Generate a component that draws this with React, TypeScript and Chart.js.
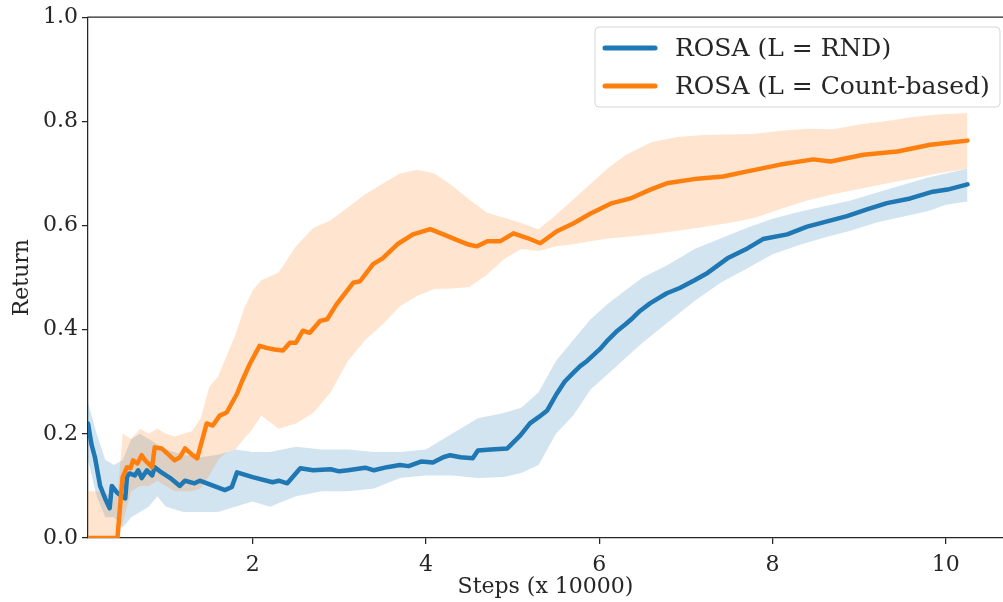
import React, { useEffect, useRef } from "react";
import { Chart, registerables } from "chart.js";
Chart.register(...registerables);

const seriesNames = ["ROSA (L = RND)", "ROSA (L = Count-based)"];
const xTickValues = [2, 4, 6, 8, 10];
const yTickValues = [0, 0.2, 0.4, 0.6, 0.8, 1.0];
const xAxisTitle = "Steps (x 10000)";
const yAxisTitle = "Return";

// RND mean line
const rndX = [0.10, 0.14, 0.18, 0.24, 0.30, 0.35, 0.375, 0.44, 0.53, 0.55, 0.58, 0.64, 0.68, 0.72, 0.78, 0.84, 0.87, 0.93, 1.05, 1.16, 1.22, 1.33, 1.39, 1.55, 1.68, 1.76, 1.82, 2.0, 2.23, 2.3, 2.4, 2.55, 2.7, 2.9, 3.0, 3.1, 3.3, 3.4, 3.55, 3.7, 3.8, 3.95, 4.08, 4.2, 4.28, 4.4, 4.54, 4.6, 4.75, 4.94, 5.09, 5.2, 5.3, 5.4, 5.51, 5.6, 5.7, 5.78, 5.86, 6.01, 6.1, 6.21, 6.3, 6.39, 6.47, 6.59, 6.78, 6.93, 7.1, 7.25, 7.48, 7.71, 7.89, 8.17, 8.4, 8.63, 8.86, 9.09, 9.32, 9.59, 9.85, 10.02, 10.25];
const rndMean = [0.22, 0.18, 0.155, 0.10, 0.075, 0.057, 0.10, 0.086, 0.076, 0.117, 0.124, 0.12, 0.13, 0.115, 0.13, 0.12, 0.136, 0.128, 0.115, 0.10, 0.11, 0.105, 0.11, 0.10, 0.092, 0.098, 0.126, 0.117, 0.107, 0.11, 0.105, 0.134, 0.13, 0.132, 0.128, 0.13, 0.135, 0.13, 0.136, 0.14, 0.138, 0.147, 0.145, 0.155, 0.159, 0.155, 0.153, 0.168, 0.17, 0.172, 0.197, 0.22, 0.232, 0.245, 0.277, 0.30, 0.317, 0.33, 0.34, 0.363, 0.38, 0.398, 0.41, 0.423, 0.436, 0.451, 0.47, 0.48, 0.495, 0.509, 0.537, 0.556, 0.574, 0.583, 0.598, 0.608, 0.618, 0.631, 0.643, 0.652, 0.665, 0.669, 0.679];

// RND band
const rndBandX = [0.1, 0.2, 0.3, 0.4, 0.5, 0.6, 0.7, 0.8, 0.9, 1.0, 1.2, 1.4, 1.6, 1.8, 2.0, 2.2, 2.5, 2.8, 3.1, 3.4, 3.7, 4.0, 4.3, 4.6, 4.9, 5.1, 5.3, 5.5, 5.7, 5.9, 6.1, 6.3, 6.5, 6.8, 7.1, 7.4, 7.7, 8.0, 8.3, 8.6, 8.9, 9.2, 9.5, 9.8, 10.0, 10.25];
const rndLow = [0.15, 0.08, 0.04, 0.04, 0.02, 0.04, 0.05, 0.06, 0.08, 0.06, 0.05, 0.05, 0.05, 0.06, 0.07, 0.06, 0.08, 0.09, 0.09, 0.095, 0.115, 0.12, 0.12, 0.115, 0.117, 0.125, 0.14, 0.20, 0.235, 0.285, 0.315, 0.345, 0.375, 0.415, 0.455, 0.49, 0.517, 0.545, 0.562, 0.577, 0.59, 0.606, 0.617, 0.628, 0.64, 0.646];
const rndHigh = [0.26, 0.20, 0.15, 0.14, 0.15, 0.19, 0.20, 0.19, 0.18, 0.17, 0.16, 0.155, 0.16, 0.17, 0.165, 0.165, 0.175, 0.17, 0.17, 0.165, 0.165, 0.17, 0.20, 0.23, 0.24, 0.25, 0.28, 0.34, 0.38, 0.42, 0.45, 0.475, 0.50, 0.525, 0.555, 0.575, 0.595, 0.613, 0.626, 0.637, 0.648, 0.663, 0.678, 0.692, 0.70, 0.709];

// Count-based mean line
const cntX = [0.10, 0.44, 0.47, 0.50, 0.55, 0.59, 0.62, 0.67, 0.72, 0.76, 0.84, 0.87, 0.95, 1.03, 1.10, 1.16, 1.22, 1.30, 1.36, 1.47, 1.54, 1.62, 1.70, 1.82, 1.88, 1.97, 2.08, 2.16, 2.25, 2.35, 2.43, 2.50, 2.58, 2.66, 2.78, 2.86, 2.97, 3.16, 3.24, 3.39, 3.50, 3.67, 3.85, 4.05, 4.20, 4.39, 4.50, 4.59, 4.71, 4.86, 5.01, 5.17, 5.32, 5.51, 5.70, 5.90, 6.13, 6.36, 6.59, 6.78, 7.13, 7.43, 7.71, 8.09, 8.47, 8.67, 9.05, 9.44, 9.82, 10.25];
const cntMean = [0.0, 0.0, 0.06, 0.117, 0.136, 0.134, 0.149, 0.143, 0.159, 0.149, 0.136, 0.174, 0.172, 0.16, 0.149, 0.155, 0.172, 0.16, 0.153, 0.22, 0.216, 0.235, 0.241, 0.277, 0.302, 0.335, 0.369, 0.365, 0.362, 0.36, 0.375, 0.375, 0.398, 0.394, 0.417, 0.42, 0.449, 0.49, 0.493, 0.526, 0.537, 0.564, 0.583, 0.593, 0.583, 0.57, 0.563, 0.56, 0.57, 0.57, 0.585, 0.576, 0.566, 0.589, 0.604, 0.623, 0.642, 0.652, 0.669, 0.681, 0.69, 0.694, 0.704, 0.717, 0.727, 0.723, 0.736, 0.742, 0.755, 0.763];

// Count-based band
const cntBandX = [0.1, 0.2, 0.3, 0.44, 0.5, 0.6, 0.7, 0.8, 0.9, 1.0, 1.1, 1.2, 1.3, 1.4, 1.5, 1.6, 1.7, 1.8, 1.9, 2.0, 2.1, 2.3, 2.5, 2.7, 2.9, 3.1, 3.3, 3.5, 3.7, 3.9, 4.1, 4.3, 4.5, 4.7, 4.9, 5.1, 5.3, 5.5, 5.7, 5.9, 6.1, 6.3, 6.6, 6.9, 7.2, 7.5, 7.8, 8.1, 8.4, 8.7, 9.0, 9.3, 9.6, 9.9, 10.25];
const cntLow = [0.0, 0.0, 0.0, 0.0, 0.03, 0.09, 0.10, 0.10, 0.11, 0.10, 0.09, 0.09, 0.09, 0.095, 0.12, 0.15, 0.165, 0.17, 0.19, 0.21, 0.235, 0.21, 0.22, 0.24, 0.28, 0.34, 0.38, 0.41, 0.445, 0.465, 0.478, 0.479, 0.482, 0.505, 0.535, 0.555, 0.551, 0.56, 0.564, 0.57, 0.575, 0.578, 0.583, 0.59, 0.597, 0.605, 0.615, 0.632, 0.648, 0.66, 0.67, 0.68, 0.69, 0.70, 0.709];
const cntHigh = [0.09, 0.09, 0.085, 0.08, 0.20, 0.19, 0.21, 0.20, 0.21, 0.20, 0.195, 0.20, 0.205, 0.23, 0.29, 0.31, 0.35, 0.39, 0.44, 0.475, 0.495, 0.51, 0.56, 0.595, 0.61, 0.635, 0.66, 0.68, 0.70, 0.707, 0.70, 0.677, 0.65, 0.625, 0.615, 0.605, 0.593, 0.62, 0.65, 0.68, 0.71, 0.735, 0.76, 0.77, 0.774, 0.775, 0.776, 0.782, 0.786, 0.785, 0.794, 0.80, 0.808, 0.813, 0.816];

const BLUE = "#1f77b4";
const ORANGE = "#ff7f0e";
const BLUE_FILL = "rgba(31,119,180,0.2)";
const ORANGE_FILL = "rgba(255,127,14,0.2)";
const INK = "#262626";
const FONT = "'DejaVu Serif', serif";

const pts = (xs: number[], ys: number[]) => xs.map((x, i) => ({ x, y: ys[i] }));

const spinePlugin = {
  id: "spines",
  afterDraw(chart: any) {
    const { ctx, chartArea } = chart;
    ctx.save();
    ctx.strokeStyle = INK;
    ctx.lineWidth = 1.25;
    ctx.beginPath();
    ctx.moveTo(chartArea.left - 0.6, chartArea.top);
    ctx.lineTo(chartArea.right + 2, chartArea.top);
    ctx.stroke();
    ctx.restore();
  },
};

const legendPlugin = {
  id: "customLegend",
  afterDraw(chart: any) {
    const { ctx } = chart;
    const x0 = 595, y0 = 27, w = 405, h = 80, r = 4;
    ctx.save();
    ctx.fillStyle = "rgba(255,255,255,0.8)";
    ctx.strokeStyle = "#d6d6d6";
    ctx.lineWidth = 1;
    ctx.beginPath();
    ctx.moveTo(x0 + r, y0);
    ctx.lineTo(x0 + w - r, y0);
    ctx.arcTo(x0 + w, y0, x0 + w, y0 + r, r);
    ctx.lineTo(x0 + w, y0 + h - r);
    ctx.arcTo(x0 + w, y0 + h, x0 + w - r, y0 + h, r);
    ctx.lineTo(x0 + r, y0 + h);
    ctx.arcTo(x0, y0 + h, x0, y0 + h - r, r);
    ctx.lineTo(x0, y0 + r);
    ctx.arcTo(x0, y0, x0 + r, y0, r);
    ctx.closePath();
    ctx.fill();
    ctx.stroke();
    const colors = [BLUE, ORANGE];
    const ys = [48, 86];
    seriesNames.forEach((name, i) => {
      ctx.strokeStyle = colors[i];
      ctx.lineWidth = 5;
      ctx.lineCap = "round";
      ctx.beginPath();
      ctx.moveTo(605, ys[i]);
      ctx.lineTo(655, ys[i]);
      ctx.stroke();
      ctx.fillStyle = INK;
      ctx.font = `25px ${FONT}`;
      ctx.textBaseline = "middle";
      ctx.textAlign = "left";
      ctx.fillText(name, 675, ys[i] + 1);
    });
    ctx.restore();
  },
};

export default function App() {
  const ref = useRef<HTMLCanvasElement>(null);
  useEffect(() => {
    const canvas = ref.current;
    if (!canvas) return;
    const bandBase = { borderWidth: 0, borderColor: "transparent", pointRadius: 0, tension: 0 };
    const lineBase = { borderWidth: 4.5, pointRadius: 0, tension: 0, fill: false, borderCapStyle: "round", borderJoinStyle: "round" };
    const chart = new Chart(canvas, {
      type: "line",
      data: {
        datasets: [
          { ...bandBase, label: "rndLow", data: pts(rndBandX, rndLow), fill: false, order: 10 },
          { ...bandBase, label: "rndHigh", data: pts(rndBandX, rndHigh), fill: "-1", backgroundColor: BLUE_FILL, order: 9 },
          { ...bandBase, label: "cntLow", data: pts(cntBandX, cntLow), fill: false, order: 8 },
          { ...bandBase, label: "cntHigh", data: pts(cntBandX, cntHigh), fill: "-1", backgroundColor: ORANGE_FILL, order: 7 },
          { ...lineBase, label: seriesNames[0], data: pts(rndX, rndMean), borderColor: BLUE, order: 2 },
          { ...lineBase, label: seriesNames[1], data: pts(cntX, cntMean), borderColor: ORANGE, order: 1 },
        ] as any,
      },
      options: {
        animation: false,
        responsive: false,
        maintainAspectRatio: false,
        layout: { padding: { top: 15, right: 0, left: 0, bottom: 0 } },
        plugins: { legend: { display: false }, tooltip: { enabled: false }, filler: { propagate: false } },
        scales: {
          x: {
            type: "linear",
            min: 0.1,
            max: 10.66,
            afterFit: (s: any) => { s.height = 64; },
            afterBuildTicks: (s: any) => { s.ticks = xTickValues.map((v) => ({ value: v })); },
            ticks: { color: INK, font: { family: FONT, size: 22 }, padding: 8, maxRotation: 0, callback: (v: any) => String(v) },
            grid: { display: true, drawOnChartArea: false, drawTicks: true, tickLength: 6, color: INK, lineWidth: 1.25 },
            border: { display: true, color: INK, width: 1.25 },
            title: { display: true, text: xAxisTitle, color: INK, font: { family: FONT, size: 22 }, padding: { top: 0, bottom: 2 } },
          },
          y: {
            type: "linear",
            min: 0,
            max: 1,
            afterFit: (s: any) => { s.width = 88; },
            afterBuildTicks: (s: any) => { s.ticks = yTickValues.map((v) => ({ value: v })); },
            ticks: { color: INK, font: { family: FONT, size: 22 }, padding: 4, callback: (v: any) => Number(v).toFixed(1) },
            grid: { display: true, drawOnChartArea: false, drawTicks: true, tickLength: 6, color: INK, lineWidth: 1.25 },
            border: { display: true, color: INK, width: 1.25 },
            title: { display: true, text: yAxisTitle, color: INK, font: { family: FONT, size: 22 }, padding: { top: 9, bottom: 0 } },
          },
        },
      } as any,
      plugins: [spinePlugin, legendPlugin],
    });
    return () => chart.destroy();
  }, []);
  return (
    <div style={{ position: "fixed", left: 0, top: 0, width: 1003, height: 602, background: "#fff" }}>
      <canvas ref={ref} width={1003} height={602} style={{ display: "block", width: 1003, height: 602 }} />
    </div>
  );
}
